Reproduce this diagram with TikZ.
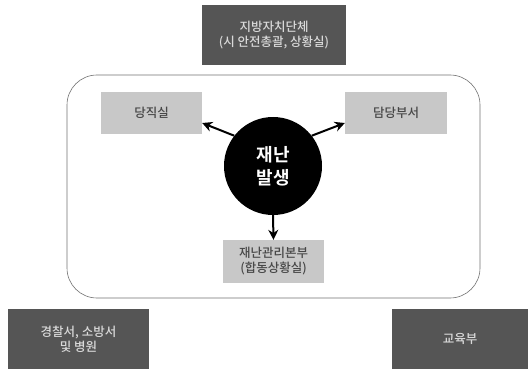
\documentclass[tikz,border=0pt]{standalone}
\usepackage{fontspec}
\setmainfont{Noto Sans CJK KR}[BoldFont={Noto Sans CJK KR Bold}]
\newfontfamily\medfont{Noto Sans CJK KR Medium}
\usetikzlibrary{arrows.meta,calc}
\definecolor{darkbox}{HTML}{555555}
\definecolor{lightbox}{HTML}{C8C8C8}
\begin{document}
\begin{tikzpicture}[x=1pt,y=-1pt,
  darkstyle/.style={fill=darkbox,text=white!85!black,draw=none,inner sep=0pt,align=center,font=\medfont\fontsize{12.5}{15}\selectfont},
  lightstyle/.style={fill=lightbox,text=black!72,draw=none,inner sep=0pt,align=center,font=\medfont\fontsize{12.5}{15}\selectfont},
  arr/.style={-{Stealth[length=10pt,width=10pt]},line width=2pt,black}]
\useasboundingbox (0,0) rectangle (528,369);
\fill[white] (0,0) rectangle (528,369);
\draw[black!55,line width=0.6pt,rounded corners=30pt] (67,75) rectangle (480,298);
\node[darkstyle,minimum width=144pt,minimum height=60pt] (top) at (274,35) {지방자치단체\\(시 안전총괄, 상황실)};
\node[lightstyle,minimum width=101pt,minimum height=42pt] (duty) at (151.5,113) {당직실};
\node[lightstyle,minimum width=102pt,minimum height=42pt] (dept) at (396,113) {담당부서};
\node[circle,fill=black,minimum size=98pt,inner sep=0pt,text=white,align=center,font=\fontsize{18}{23}\bfseries\selectfont] (core) at (273,166) {재난\\발생};
\node[lightstyle,minimum width=101pt,minimum height=43pt] (hq) at (273.5,261.5) {재난관리본부\\(합동상황실)};
\node[darkstyle,minimum width=141pt,minimum height=60pt] (police) at (78.5,339) {경찰서, 소방서\\및 병원};
\node[darkstyle,minimum width=136pt,minimum height=60pt] (edu) at (460,339) {교육부};
\draw[arr] (core.142) -- ($(duty.east)+(0,10)$);
\draw[arr] (core.38) -- ($(dept.west)+(0,10)$);
\draw[arr] (core.south) -- (hq.north);
\end{tikzpicture}
\end{document}
